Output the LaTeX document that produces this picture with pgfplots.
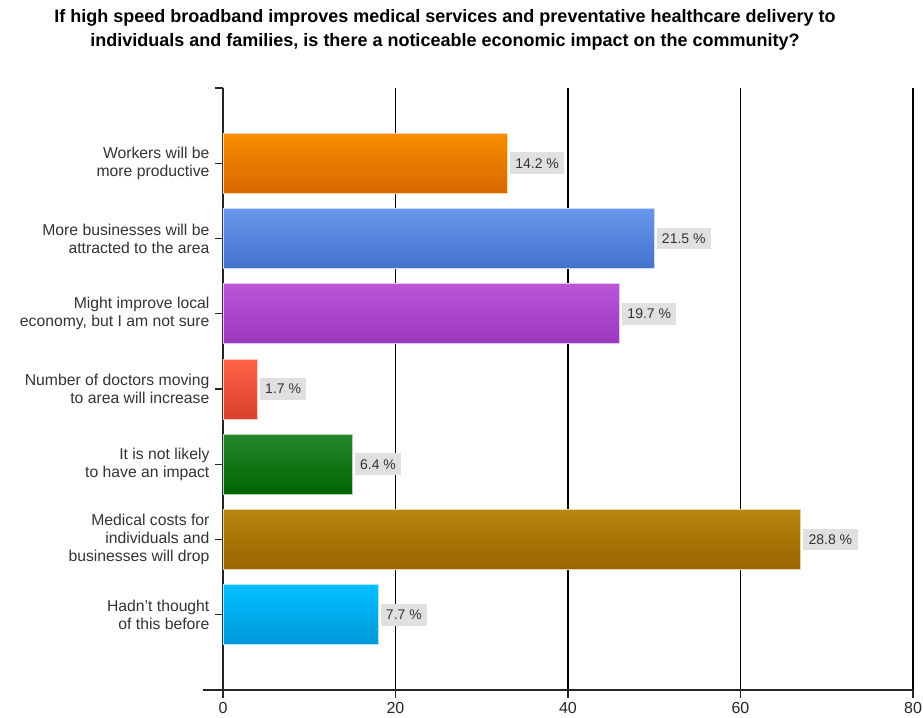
\documentclass[border=0pt]{standalone}
\usepackage{fontspec}
\setmainfont{Liberation Sans}
\usepackage{pgfplots}
\pgfplotsset{compat=1.18}
\definecolor{orT}{HTML}{F88C00}
\definecolor{orB}{HTML}{D86800}
\definecolor{blT}{HTML}{6897EC}
\definecolor{blB}{HTML}{4472CC}
\definecolor{puT}{HTML}{BC55D8}
\definecolor{puB}{HTML}{9A38BE}
\definecolor{reT}{HTML}{FF6448}
\definecolor{reB}{HTML}{D8402A}
\definecolor{grT}{HTML}{24882A}
\definecolor{grB}{HTML}{006400}
\definecolor{goT}{HTML}{B8860E}
\definecolor{goB}{HTML}{9C6400}
\definecolor{skT}{HTML}{00C0FF}
\definecolor{skB}{HTML}{0098DA}
\begin{document}
\begin{tikzpicture}
\useasboundingbox (-167.25pt,-20.25pt) rectangle (525pt,517.5pt);
\begin{axis}[
  scale only axis, width=517.5pt, height=451.5pt,
  xbar, bar shift=0pt, bar width=45pt,
  xmin=0, xmax=80, ymin=0, ymax=8,
  xtick={0,20,...,80}, ytick={1,...,7},
  extra y ticks={8}, extra y tick labels={},
  yticklabels={{Hadn't thought\\of this before},
               {Medical costs for\\individuals and\\businesses will drop},
               {It is not likely\\to have an impact},
               {Number of doctors moving\\to area will increase},
               {Might improve local\\economy, but I am not sure},
               {More businesses will be\\attracted to the area},
               {Workers will be\\more productive}},
  axis x line=bottom, axis y line=left,
  axis line style={-, black!85, line width=0.9pt},
  x axis line style={shorten <=-15pt},
  xmajorgrids, major grid style={black, line width=0.8pt},
  tick align=outside, major tick length=6pt,
  tick style={black!85, line width=0.8pt},
  yticklabel style={align=right, font=\fontsize{11.8}{13.6}\selectfont, text=black!80, inner xsep=4pt},
  xticklabel style={font=\fontsize{12}{13}\selectfont, text=black!85},
  /pgf/number format/assume math mode=true,
  nodes near coords, point meta=explicit symbolic,
  every node near coord/.style={anchor=west, xshift=1.5pt, fill=black!12, inner xsep=4pt, inner ysep=4.5pt, font=\fontsize{10.5}{12}\selectfont, text=black!80},
  clip=false,
]
\addplot[top color=orT, bottom color=orB, draw=orT!35, line width=0.6pt] coordinates {(33,7) [14.2 \%]};
\addplot[top color=blT, bottom color=blB, draw=blT!35, line width=0.6pt] coordinates {(50,6) [21.5 \%]};
\addplot[top color=puT, bottom color=puB, draw=puT!35, line width=0.6pt] coordinates {(46,5) [19.7 \%]};
\addplot[top color=reT, bottom color=reB, draw=reT!35, line width=0.6pt] coordinates {(4,4) [1.7 \%]};
\addplot[top color=grT, bottom color=grB, draw=grT!35, line width=0.6pt] coordinates {(15,3) [6.4 \%]};
\addplot[top color=goT, bottom color=goB, draw=goT!35, line width=0.6pt] coordinates {(67,2) [28.8 \%]};
\addplot[top color=skT, bottom color=skB, draw=skT!35, line width=0.6pt] coordinates {(18,1) [7.7 \%]};
\end{axis}
\node[align=center, font=\bfseries\fontsize{13.5}{18.5}\selectfont] at (166.5pt,495pt)
  {If high speed broadband improves medical services and preventative healthcare delivery to\\individuals and families, is there a noticeable economic impact on the community?};
\end{tikzpicture}
\end{document}
